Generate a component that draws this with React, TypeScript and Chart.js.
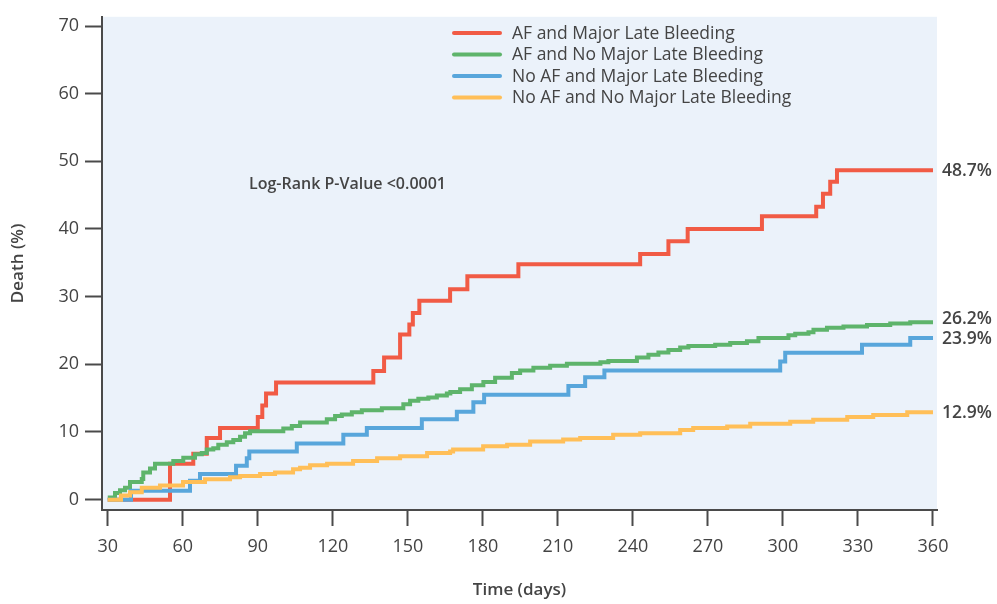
import React, { useEffect, useRef } from 'react';
import { Chart, registerables } from 'chart.js';

Chart.register(...registerables);

// ---------- data ----------
const seriesLabels = [
  'AF and Major Late Bleeding',
  'AF and No Major Late Bleeding',
  'No AF and Major Late Bleeding',
  'No AF and No Major Late Bleeding',
];
const seriesColors = ['#F15B45', '#5EB46B', '#58A6DB', '#FFBF58'];

const redDays = [30, 54.9, 64.2, 69.6, 74.9, 90.0, 91.8, 93.3, 97.3, 136.2, 140.5, 146.9, 150.6, 152.0, 154.6, 166.9, 173.8, 194.2, 242.9, 254.2, 261.9, 291.6, 313.3, 316.0, 318.9, 321.6, 360];
const redValues = [0, 5.3, 6.8, 9.1, 10.6, 12.2, 13.9, 15.7, 17.3, 19.0, 21.0, 24.4, 25.9, 27.6, 29.4, 31.1, 33.0, 34.8, 36.3, 38.2, 40.0, 41.9, 43.3, 45.2, 47.0, 48.7, 48.7];

const greenDays = [30, 32.9, 34.9, 36.9, 38.9, 43.6, 44.2, 46.9, 48.9, 56.2, 60.2, 64.9, 67.6, 69.6, 72.2, 74.2, 77.6, 80.2, 82.9, 84.9, 86.9, 100.2, 103.6, 106.9, 117.6, 120.9, 123.6, 127.6, 131.6, 139.6, 148.2, 150.9, 154.2, 158.2, 161.6, 165.6, 167.0, 170.9, 175.6, 180.2, 184.9, 191.6, 194.9, 200.2, 206.9, 213.6, 227.0, 230.2, 241.6, 246.2, 250.2, 254.2, 258.9, 262.2, 272.9, 278.9, 285.6, 290.2, 302.2, 304.9, 310.2, 312.2, 317.6, 324.2, 333.6, 342.9, 350.9, 360];
const greenValues = [0.3, 1.0, 1.4, 1.75, 2.6, 3.05, 4.0, 4.6, 5.3, 5.7, 6.2, 6.7, 6.9, 7.4, 7.6, 8.1, 8.5, 8.8, 9.3, 9.8, 10.1, 10.5, 10.9, 11.4, 11.9, 12.35, 12.6, 12.9, 13.2, 13.5, 14.1, 14.6, 14.9, 15.1, 15.4, 15.7, 15.9, 16.3, 16.9, 17.4, 18.0, 18.7, 19.1, 19.5, 19.8, 20.1, 20.3, 20.5, 21.0, 21.4, 21.75, 22.1, 22.5, 22.7, 22.9, 23.15, 23.4, 23.9, 24.3, 24.5, 24.75, 25.1, 25.4, 25.6, 25.8, 26.05, 26.2, 26.2];

const blueDays = [30, 39.3, 62.9, 66.9, 81.3, 85.6, 86.6, 105.6, 124.2, 133.6, 155.6, 169.6, 176.2, 180.5, 214.2, 220.9, 228.6, 298.9, 300.9, 331.6, 350.9, 360];
const blueValues = [0, 1.3, 2.8, 3.8, 5.0, 6.1, 7.1, 8.3, 9.6, 10.6, 11.9, 13.0, 14.4, 15.5, 16.8, 18.1, 19.1, 20.4, 21.7, 22.9, 23.9, 23.9];

const yellowDays = [30, 35.3, 38.9, 43.6, 50.9, 60.1, 68.9, 78.9, 82.9, 90.9, 96.9, 104.1, 106.9, 110.9, 117.7, 128.1, 137.7, 146.9, 157.7, 166.9, 168.1, 180.1, 189.7, 198.9, 212.1, 218.9, 232.1, 242.9, 258.9, 264.1, 277.7, 286.9, 302.9, 312.1, 325.7, 336.1, 349.7, 360];
const yellowValues = [0, 0.6, 1.1, 1.75, 2.1, 2.6, 3.0, 3.3, 3.5, 3.8, 4.0, 4.5, 4.7, 5.1, 5.3, 5.7, 6.1, 6.4, 6.9, 7.1, 7.4, 7.9, 8.1, 8.6, 8.9, 9.1, 9.6, 9.8, 10.3, 10.6, 10.8, 11.2, 11.5, 11.8, 12.2, 12.5, 12.9, 12.9];

const xTicks = [30, 60, 90, 120, 150, 180, 210, 240, 270, 300, 330, 360];
const yTicks = [0, 10, 20, 30, 40, 50, 60, 70];
const endLabels = ['48.7%', '26.2%', '23.9%', '12.9%'];
const pValueText = 'Log-Rank P-Value <0.0001';
const xTitle = 'Time (days)';
const yTitle = 'Death (%)';

// ---------- style ----------
const FONT = '"Open Sans", "Noto Sans", "DejaVu Sans", sans-serif';
const TEXT = '#444444';
const AXIS = '#4a4a4a';
const PLOT_BG = '#EBF2FA';

const allDays = [redDays, greenDays, blueDays, yellowDays];
const allValues = [redValues, greenValues, blueValues, yellowValues];

const bgPlugin = {
  id: 'plotBg',
  beforeDraw(chart: any) {
    const { ctx, chartArea } = chart;
    ctx.save();
    ctx.fillStyle = PLOT_BG;
    ctx.fillRect(chartArea.left, chartArea.top, chartArea.right - chartArea.left, chartArea.bottom - chartArea.top);
    ctx.restore();
  },
};

const overlayPlugin = {
  id: 'overlay',
  afterDraw(chart: any) {
    const { ctx, chartArea, scales } = chart;
    ctx.save();
    // legend
    const lx0 = 454, lx1 = 500, ly0 = 33, step = 21.5;
    ctx.font = `17.5px ${FONT}`;
    ctx.textBaseline = 'middle';
    ctx.textAlign = 'left';
    seriesLabels.forEach((lab, i) => {
      const y = ly0 + i * step;
      ctx.strokeStyle = seriesColors[i];
      ctx.lineWidth = 4;
      ctx.lineCap = 'round';
      ctx.beginPath();
      ctx.moveTo(lx0, y);
      ctx.lineTo(lx1, y);
      ctx.stroke();
      ctx.fillStyle = TEXT;
      ctx.fillText(lab, 512, y + 1);
    });
    // p-value
    ctx.font = `600 16px ${FONT}`;
    ctx.fillStyle = TEXT;
    ctx.fillText(pValueText, 249, 184);
    // end labels
    const items = allValues.map((vals, i) => ({
      i,
      y: scales.y.getPixelForValue(vals[vals.length - 1]) + 1,
    }));
    const sorted = [...items].sort((a, b) => b.y - a.y);
    for (let k = 1; k < sorted.length; k++) {
      if (sorted[k - 1].y - sorted[k].y < 20) sorted[k].y = sorted[k - 1].y - 20;
    }
    ctx.font = `600 17.5px ${FONT}`;
    items.forEach((it) => {
      ctx.fillText(endLabels[it.i], chartArea.right + 5, it.y);
    });
    ctx.restore();
  },
};

export default function App() {
  const ref = useRef<HTMLCanvasElement | null>(null);
  useEffect(() => {
    document.body.style.margin = '0';
    const canvas = ref.current;
    if (!canvas) return;
    const datasets = allDays.map((days, i) => ({
      label: seriesLabels[i],
      data: days.map((d, j) => ({ x: d, y: allValues[i][j] })),
      borderColor: seriesColors[i],
      backgroundColor: seriesColors[i],
      borderWidth: 4,
      pointRadius: 0,
      stepped: 'before' as const,
      fill: false,
      order: 3 - i,
      borderCapStyle: 'butt' as const,
      borderJoinStyle: 'miter' as const,
    }));
    const chart = new Chart(canvas, {
      type: 'line',
      data: { datasets },
      options: {
        responsive: false,
        animation: false,
        layout: { padding: { top: 6, right: 60, left: 0, bottom: 0 } },
        plugins: { legend: { display: false }, tooltip: { enabled: false } },
        scales: {
          x: {
            type: 'linear',
            min: 27.7,
            max: 361.6,
            afterBuildTicks: (s: any) => {
              s.ticks = xTicks.map((v) => ({ value: v }));
            },
            afterFit: (s: any) => {
              s.height = 94;
            },
            grid: { display: true, drawOnChartArea: false, drawTicks: true, tickLength: 16, tickWidth: 2, tickColor: AXIS },
            border: { display: true, color: AXIS, width: 2 },
            ticks: { color: TEXT, font: { family: FONT, size: 18 }, padding: 10, maxRotation: 0, autoSkip: false },
            title: { display: true, text: xTitle, color: TEXT, font: { family: FONT, size: 17, weight: '600' }, padding: { top: 0, bottom: 4 } },
          },
          y: {
            type: 'linear',
            min: -1.53,
            max: 71.36,
            afterBuildTicks: (s: any) => {
              s.ticks = yTicks.map((v) => ({ value: v }));
            },
            afterFit: (s: any) => {
              s.width = 102;
            },
            grid: { display: true, drawOnChartArea: false, drawTicks: true, tickLength: 17, tickWidth: 2, tickColor: AXIS },
            border: { display: true, color: AXIS, width: 2 },
            ticks: { color: TEXT, font: { family: FONT, size: 18 }, padding: 6 },
            title: { display: true, text: yTitle, color: TEXT, font: { family: FONT, size: 17, weight: '600' }, padding: { top: 8, bottom: 0 } },
          },
        },
      },
      plugins: [bgPlugin, overlayPlugin],
    });
    return () => chart.destroy();
  }, []);
  return (
    <div style={{ width: 997, height: 604, position: 'relative' }}>
      <canvas ref={ref} width={997} height={604} style={{ display: 'block' }} />
    </div>
  );
}
